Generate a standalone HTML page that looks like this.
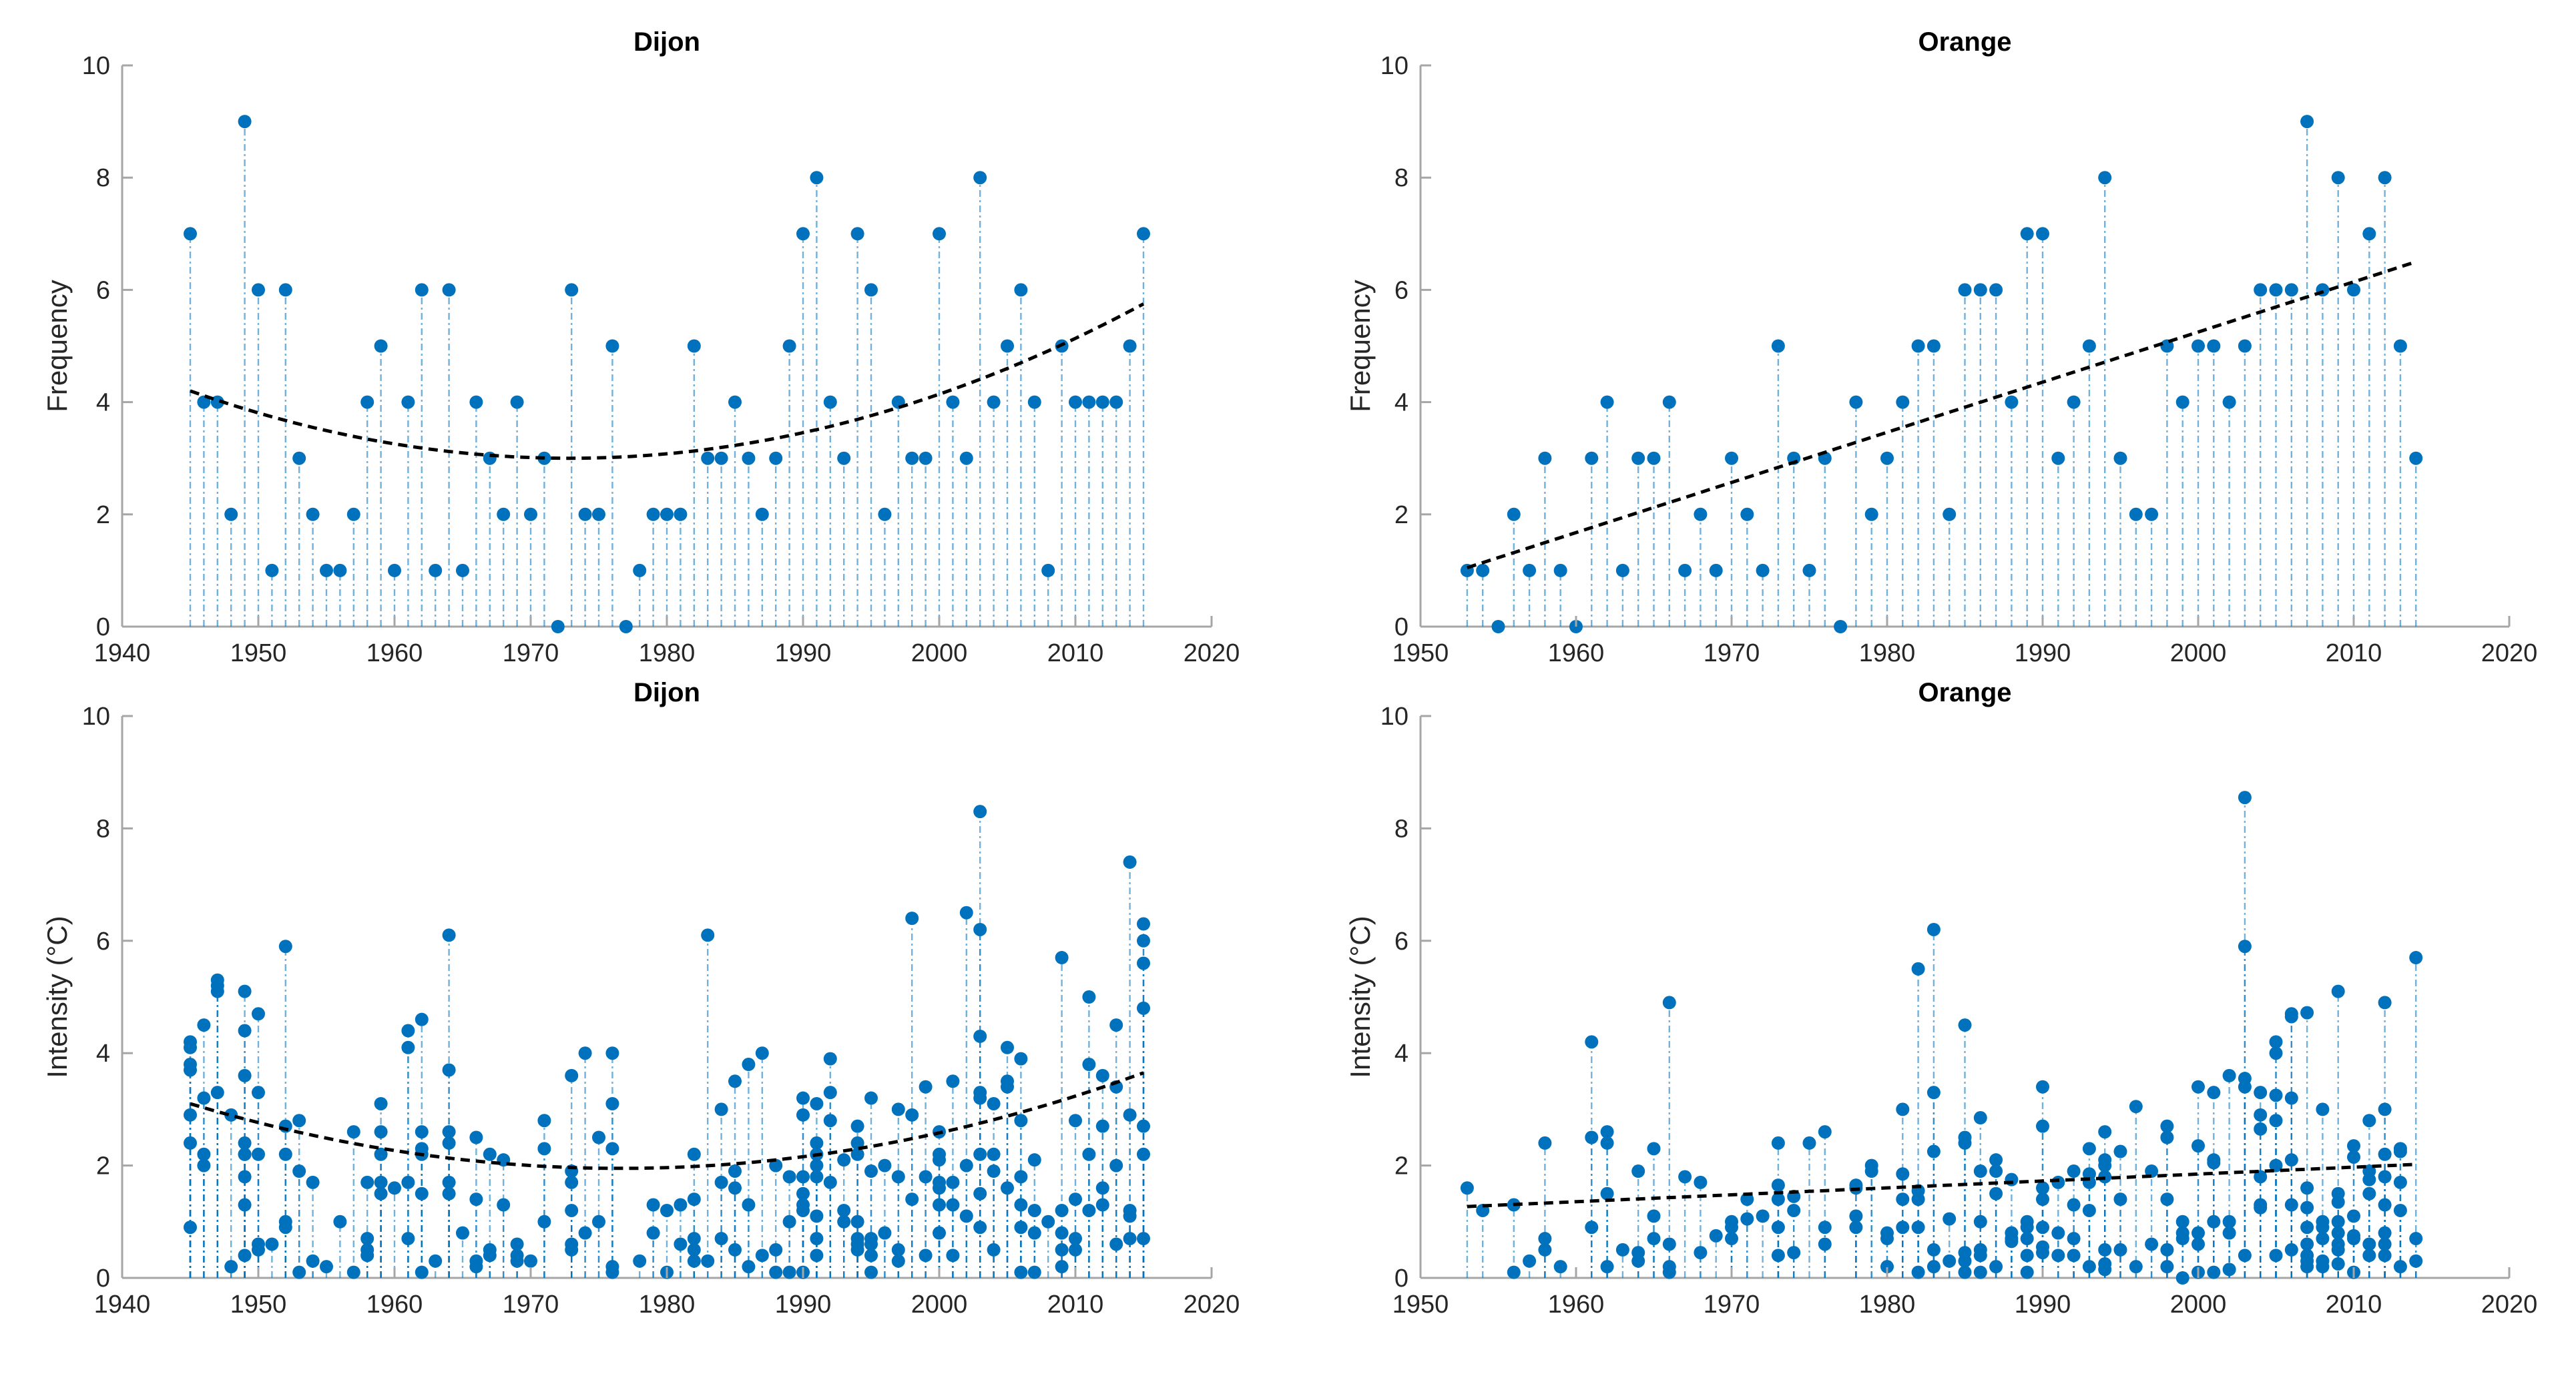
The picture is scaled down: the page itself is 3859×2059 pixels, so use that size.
<!DOCTYPE html>
<html><head><meta charset="utf-8"><style>
html,body{margin:0;padding:0;background:#fff;}
svg{display:block;font-family:"Liberation Sans",Arial,sans-serif;}
</style></head><body>
<svg id="fig" width="3859" height="2059" viewBox="0 0 3859 2059" xmlns="http://www.w3.org/2000/svg"></svg>
<script>
// ---------- data ----------
const dijonFreqYears = [1945,1946,1947,1948,1949,1950,1951,1952,1953,1954,1955,1956,1957,1958,1959,1960,1961,1962,1963,1964,1965,1966,1967,1968,1969,1970,1971,1972,1973,1974,1975,1976,1977,1978,1979,1980,1981,1982,1983,1984,1985,1986,1987,1988,1989,1990,1991,1992,1993,1994,1995,1996,1997,1998,1999,2000,2001,2002,2003,2004,2005,2006,2007,2008,2009,2010,2011,2012,2013,2014,2015];
const dijonFreq = [7,4,4,2,9,6,1,6,3,2,1,1,2,4,5,1,4,6,1,6,1,4,3,2,4,2,3,0,6,2,2,5,0,1,2,2,2,5,3,3,4,3,2,3,5,7,8,4,3,7,6,2,4,3,3,7,4,3,8,4,5,6,4,1,5,4,4,4,4,5,7];
const dijonFreqTrend = [4.2, 3.0, 5.75];
const dijonFreqTrendYears = [1945, 1973, 2015];

const orangeFreqYears = [1953,1954,1955,1956,1957,1958,1959,1960,1961,1962,1963,1964,1965,1966,1967,1968,1969,1970,1971,1972,1973,1974,1975,1976,1977,1978,1979,1980,1981,1982,1983,1984,1985,1986,1987,1988,1989,1990,1991,1992,1993,1994,1995,1996,1997,1998,1999,2000,2001,2002,2003,2004,2005,2006,2007,2008,2009,2010,2011,2012,2013,2014];
const orangeFreq = [1,1,0,2,1,3,1,0,3,4,1,3,3,4,1,2,1,3,2,1,5,3,1,3,0,4,2,3,4,5,5,2,6,6,6,4,7,7,3,4,5,8,3,2,2,5,4,5,5,4,5,6,6,6,9,6,8,6,7,8,5,3];
const orangeFreqTrend = [1.05, 6.5];
const orangeFreqTrendYears = [1953, 2014];

const dijonIntYears = [1945,1946,1947,1948,1949,1950,1951,1952,1953,1954,1955,1956,1957,1958,1959,1960,1961,1962,1963,1964,1965,1966,1967,1968,1969,1970,1971,1973,1974,1975,1976,1978,1979,1980,1981,1982,1983,1984,1985,1986,1987,1988,1989,1990,1991,1992,1993,1994,1995,1996,1997,1998,1999,2000,2001,2002,2003,2004,2005,2006,2007,2008,2009,2010,2011,2012,2013,2014,2015];
const dijonInt = [
[4.2,4.1,3.8,3.7,2.9,2.4,0.9],[4.5,3.2,2.2,2.0],[5.3,5.2,5.1,3.3],[2.9,0.2],
[5.1,4.4,3.6,2.4,2.2,1.8,1.3,0.4,2.2],[4.7,3.3,2.2,0.6,0.5],[0.6],[5.9,2.7,2.2,1.0,0.9],
[2.8,1.9,0.1],[1.7,0.3],[0.2],[1.0],[2.6,0.1],[1.7,0.7,0.5,0.4],[3.1,2.6,2.2,1.7,1.5],[1.6],
[4.4,4.1,1.7,0.7],[4.6,2.6,2.3,2.2,1.5,0.1],[0.3],[6.1,3.7,2.6,2.4,1.7,1.5],[0.8],
[2.5,1.4,0.3,0.2],[2.2,0.5,0.4],[2.1,1.3],[0.6,0.4,0.3],[0.3],[2.8,2.3,1.0],
[3.6,1.9,1.7,1.2,0.6,0.5],[4.0,0.8],[2.5,1.0],[4.0,3.1,2.3,0.2,0.1],[0.3],[1.3,0.8],[1.2,0.1],
[1.3,0.6],[2.2,1.4,0.7,0.5,0.3],[6.1,0.3],[3.0,1.7,0.7],[3.5,1.9,1.6,0.5],[3.8,1.3,0.2],[4.0,0.4],
[2.0,0.5,0.1],[1.8,1.0,0.1],[3.2,2.9,1.8,1.5,1.3,1.2,0.1],[3.1,2.4,2.2,2.0,1.8,1.1,0.7,0.4],
[3.9,3.3,2.8,1.7],[2.1,1.2,1.0],[2.7,2.4,2.2,1.0,0.7,0.6,0.5],[3.2,1.9,0.7,0.6,0.4,0.1],[2.0,0.8],
[3.0,1.8,0.5,0.3],[6.4,2.9,1.4],[3.4,1.8,0.4],[2.6,2.2,2.1,1.7,1.6,1.3,0.8],[3.5,1.7,1.3,0.4],
[6.5,2.0,1.1],[8.3,6.2,4.3,3.3,3.2,2.2,1.5,0.9],[3.1,2.2,1.9,0.5],[4.1,3.5,3.4,1.6],
[3.9,2.8,1.8,1.3,0.9,0.1],[2.1,1.2,0.8,0.1],[1.0],[5.7,1.2,0.8,0.5,0.2],[2.8,1.4,0.7,0.5],
[5.0,3.8,2.2,1.2],[3.6,2.7,1.6,1.3],[4.5,3.4,2.0,0.6],[7.4,2.9,1.2,1.1,0.7],[6.3,6.0,5.6,4.8,2.7,2.2,0.7]];
const dijonIntTrend = [3.1, 1.95, 3.65];
const dijonIntTrendYears = [1945, 1977, 2015];

const orangeIntYears = [1953,1954,1956,1957,1958,1959,1961,1962,1963,1964,1965,1966,1967,1968,1969,1970,1971,1972,1973,1974,1975,1976,1978,1979,1980,1981,1982,1983,1984,1985,1986,1987,1988,1989,1990,1991,1992,1993,1994,1995,1996,1997,1998,1999,2000,2001,2002,2003,2004,2005,2006,2007,2008,2009,2010,2011,2012,2013,2014];
const orangeInt = [
[1.6],[1.2],[1.3,0.1],[0.3],[2.4,0.7,0.5],[0.2],[4.2,2.5,0.9],[2.6,2.4,1.5,0.2],[0.5],[1.9,0.45,0.3],
[2.3,1.1,0.7],[4.9,0.6,0.2,0.1],[1.8],[1.7,0.45],[0.75],[1.0,0.9,0.7],[1.4,1.05],[1.1],
[2.4,1.65,1.4,0.9,0.4],[1.45,1.2,0.45],[2.4],[2.6,0.9,0.6],[1.65,1.6,1.1,0.9],[2.0,1.9],[0.8,0.7,0.2],
[3.0,1.85,1.4,0.9],[5.5,1.55,1.4,0.9,0.1],[6.2,3.3,2.25,0.5,0.2],[1.05,0.3],[4.5,2.5,2.4,0.45,0.3,0.1],
[2.85,1.9,1.0,0.5,0.4,0.1],[2.1,1.9,1.5,0.2],[1.75,0.8,0.7,0.65],[1.0,0.9,0.7,0.4,0.1],
[3.4,2.7,1.6,1.4,0.9,0.55,0.45],[1.7,0.8,0.4],[1.9,1.3,0.7,0.4],[2.3,1.85,1.7,1.2,0.2],
[2.6,2.1,2.0,1.8,0.5,0.25,0.15],[2.25,1.4,0.5],[3.05,0.2],[1.9,0.6],[2.7,2.5,1.4,0.5,0.2],[1.0,0.8,0.7,0.0],
[3.4,2.35,0.8,0.6,0.1],[3.3,2.1,2.05,1.0,0.1],[3.6,1.0,0.8,0.15],[8.55,5.9,3.55,3.4,0.4],
[3.3,2.9,2.65,1.8,1.3,1.25],[4.2,4.0,3.25,2.8,2.0,0.4],[4.7,4.65,3.2,2.1,1.3,0.5],
[4.72,1.6,1.25,0.9,0.6,0.4,0.3,0.2],[3.0,1.0,0.9,0.7,0.3,0.2],[5.1,1.5,1.35,1.0,0.8,0.6,0.5,0.25],
[2.35,2.15,1.1,0.75,0.7,0.1],[2.8,1.9,1.75,1.5,0.6,0.4],[4.9,3.0,2.2,1.8,1.3,0.8,0.6,0.4],
[2.3,2.25,1.7,1.2,0.2],[5.7,0.7,0.3]];
const orangeIntTrend = [1.27, 2.02];
const orangeIntTrendYears = [1953, 2014];

const yTicks = [0,2,4,6,8,10];
const xTicksLeft = [1940,1950,1960,1970,1980,1990,2000,2010,2020];
const xTicksRight = [1950,1960,1970,1980,1990,2000,2010,2020];

// ---------- drawing ----------
const NS = "http://www.w3.org/2000/svg";
const svg = document.getElementById('fig');
function mk(tag, attrs, parent){
  const e = document.createElementNS(NS, tag);
  for (const k in attrs) e.setAttribute(k, attrs[k]);
  (parent||svg).appendChild(e);
  return e;
}
function trendFn(ty, tv){
  if (tv.length === 2){
    return x => tv[0] + (tv[1]-tv[0])*(x-ty[0])/(ty[1]-ty[0]);
  }
  return x => {
    let s = 0;
    for (let i=0;i<3;i++){
      let t = tv[i];
      for (let j=0;j<3;j++) if (j!==i) t *= (x-ty[j])/(ty[i]-ty[j]);
      s += t;
    }
    return s;
  };
}
function panel(opt){
  const g = mk('g', {});
  
  
  const X = v => opt.x0 + (v - opt.xmin)/(opt.xmax - opt.xmin)*(opt.x1 - opt.x0);
  const Y = v => opt.y0 - v/10*(opt.y0 - opt.y1);
  // axes (drawn first, under data)
  const ax = mk('g', {stroke:'#a6a6a6', 'stroke-width':3, fill:'none'}, g);
  
  
  mk('line', {x1:opt.x0, y1:opt.y0, x2:opt.x1, y2:opt.y0}, ax);
  mk('line', {x1:opt.x0, y1:opt.y0, x2:opt.x0, y2:opt.y1}, ax);
  const stems = mk('g', {}, g);
  
  
  const pts = mk('g', {}, g);
  
  
  opt.years.forEach((yr, i) => {
    const vals = Array.isArray(opt.values[i]) ? opt.values[i] : [opt.values[i]];
    vals.forEach(v => {
      const s = mk('line', {x1:X(yr), x2:X(yr), y1:Y(0), y2:Y(v), stroke:'#0072BD', 'stroke-width':2.4, 'stroke-dasharray':'10 5 3 5', opacity:0.55}, stems);
      
      
      const c = mk('circle', {cx:X(yr), cy:Y(v), r:10, fill:'#0072BD'}, pts);
      
      
    });
  });
  const f = trendFn(opt.trendYears, opt.trend);
  const a = opt.trendYears[0], b = opt.trendYears[opt.trendYears.length-1];
  let d = '';
  for (let k=0;k<=100;k++){ const x = a + (b-a)*k/100; d += (k?'L':'M') + X(x).toFixed(1) + ' ' + Y(f(x)).toFixed(1); }
  const tp = mk('path', {d:d, fill:'none', stroke:'#000', 'stroke-width':5, 'stroke-dasharray':'14 9'}, g);
  
  
  const tk = mk('g', {stroke:'#a6a6a6', 'stroke-width':3}, g);
  
  
  yTicks.forEach(t => {
    mk('line', {x1:opt.x0, x2:opt.x0+16, y1:Y(t), y2:Y(t)}, tk);
    const tx = mk('text', {x:opt.x0-18, y:Y(t)+13, 'text-anchor':'end', 'font-size':38, fill:'#262626'}, g);
    tx.textContent = t;
    
    
  });
  opt.xticks.forEach(t => {
    mk('line', {x1:X(t), x2:X(t), y1:opt.y0, y2:opt.y0-16}, tk);
    const tx = mk('text', {x:X(t), y:opt.y0+52, 'text-anchor':'middle', 'font-size':38, fill:'#262626'}, g);
    tx.textContent = t;
    
    
  });
  const ti = mk('text', {x:(opt.x0+opt.x1)/2, y:opt.y1-22, 'text-anchor':'middle', 'font-size':40, 'font-weight':'bold', fill:'#000'}, g);
  ti.textContent = opt.title;
  
  
  const yl = mk('text', {x:0, y:0, 'text-anchor':'middle', 'font-size':42, fill:'#262626', transform:`translate(${opt.ylx},${(opt.y0+opt.y1)/2}) rotate(-90)`}, g);
  yl.textContent = opt.ylabel;
  
  
}

panel({name:'dijon-frequency-panel', title:'Dijon', ylabel:'Frequency', x0:183, x1:1815, xmin:1940, xmax:2020, y0:939, y1:98, ylx:100, xticks:xTicksLeft,
  years:dijonFreqYears, values:dijonFreq, trend:dijonFreqTrend, trendYears:dijonFreqTrendYears});
panel({name:'orange-frequency-panel', title:'Orange', ylabel:'Frequency', x0:2128, x1:3759, xmin:1950, xmax:2020, y0:939, y1:98, ylx:2052, xticks:xTicksRight,
  years:orangeFreqYears, values:orangeFreq, trend:orangeFreqTrend, trendYears:orangeFreqTrendYears});
panel({name:'dijon-intensity-panel', title:'Dijon', ylabel:'Intensity (°C)', x0:183, x1:1815, xmin:1940, xmax:2020, y0:1915, y1:1073, ylx:100, xticks:xTicksLeft,
  years:dijonIntYears, values:dijonInt, trend:dijonIntTrend, trendYears:dijonIntTrendYears});
panel({name:'orange-intensity-panel', title:'Orange', ylabel:'Intensity (°C)', x0:2128, x1:3759, xmin:1950, xmax:2020, y0:1915, y1:1073, ylx:2052, xticks:xTicksRight,
  years:orangeIntYears, values:orangeInt, trend:orangeIntTrend, trendYears:orangeIntTrendYears});
</script>
</body></html>
